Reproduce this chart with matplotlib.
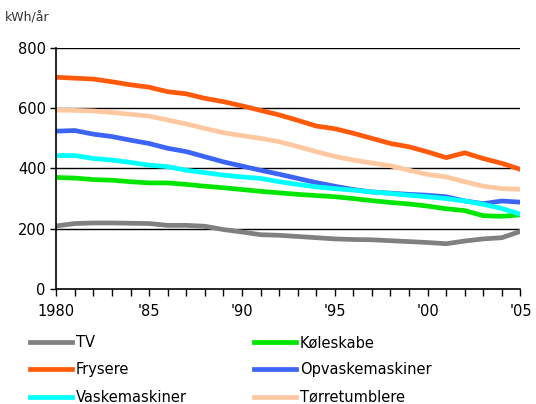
import matplotlib.pyplot as plt

years = list(range(1980, 2006))

tv = [209, 217, 219, 219, 218, 217, 211, 211, 208, 197, 189, 180, 178,
      174, 170, 166, 164, 163, 160, 157, 154, 150, 159, 166, 170, 191]
koleskabe = [370, 368, 363, 361, 356, 352, 352, 347, 341, 336, 330, 324, 319,
             314, 310, 306, 300, 293, 287, 282, 275, 266, 260, 243, 241, 246]
frysere = [703, 700, 697, 688, 678, 670, 655, 648, 633, 622, 608, 593, 578,
           560, 541, 532, 517, 500, 483, 472, 455, 436, 452, 433, 417, 397]
opvask = [524, 526, 514, 506, 494, 483, 467, 456, 439, 422, 408, 394, 381,
          367, 353, 341, 330, 322, 318, 314, 311, 306, 292, 283, 292, 288]
vask = [443, 443, 433, 428, 420, 411, 406, 394, 386, 378, 372, 367, 356,
        347, 339, 333, 328, 322, 317, 311, 306, 300, 292, 281, 267, 248]
torre = [594, 593, 591, 586, 580, 574, 561, 548, 533, 519, 509, 500, 489,
         473, 456, 440, 428, 418, 409, 394, 380, 372, 356, 341, 333, 331]

xtick_years = [1980, 1985, 1990, 1995, 2000, 2005]
xtick_labels = ["1980", "'85", "'90", "'95", "'00", "'05"]
yticks = [0, 200, 400, 600, 800]

fig = plt.figure(figsize=(5.36, 4.04), dpi=100)
ax = fig.add_axes([0.105, 0.285, 0.866, 0.596])

for y in yticks[1:]:
    ax.axhline(y, color='black', lw=1.0, zorder=1)

lw = 3.4
l_tv, = ax.plot(years, tv, color='#808080', lw=lw, label='TV')
l_kol, = ax.plot(years, koleskabe, color='#00e600', lw=lw, label='Køleskabe')
l_fry, = ax.plot(years, frysere, color='#ff5a0a', lw=lw, label='Frysere')
l_opv, = ax.plot(years, opvask, color='#3c64f5', lw=lw, label='Opvaskemaskiner')
l_vask, = ax.plot(years, vask, color='#00ffff', lw=lw, label='Vaskemaskiner')
l_tor, = ax.plot(years, torre, color='#ffc8a0', lw=lw, label='Tørretumblere')

ax.set_xlim(1980, 2005)
ax.set_ylim(0, 800)
ax.set_yticks(yticks)
ax.set_xticks(xtick_years)
ax.set_xticklabels(xtick_labels)
ax.set_xticks(years, minor=True)
ax.tick_params(axis='x', which='both', direction='out', length=5, width=1,
               labelsize=10.5, pad=6)
ax.tick_params(axis='y', direction='out', length=4, width=1, labelsize=10.5)
for side in ['top', 'right']:
    ax.spines[side].set_visible(False)
for side in ['left', 'bottom']:
    ax.spines[side].set_linewidth(1.2)

fig.text(0.01, 0.955, 'kWh/år', fontsize=9, color='#333333', va='center')

fig.legend(handles=[l_tv, l_fry, l_vask, l_kol, l_opv, l_tor], ncol=2,
           loc='upper left', bbox_to_anchor=(0.045, 0.185), frameon=False,
           fontsize=10.5, handlelength=2.9, handletextpad=0.25,
           columnspacing=4.6, labelspacing=0.85, borderaxespad=0)

fig.savefig('out.png', dpi=100)
